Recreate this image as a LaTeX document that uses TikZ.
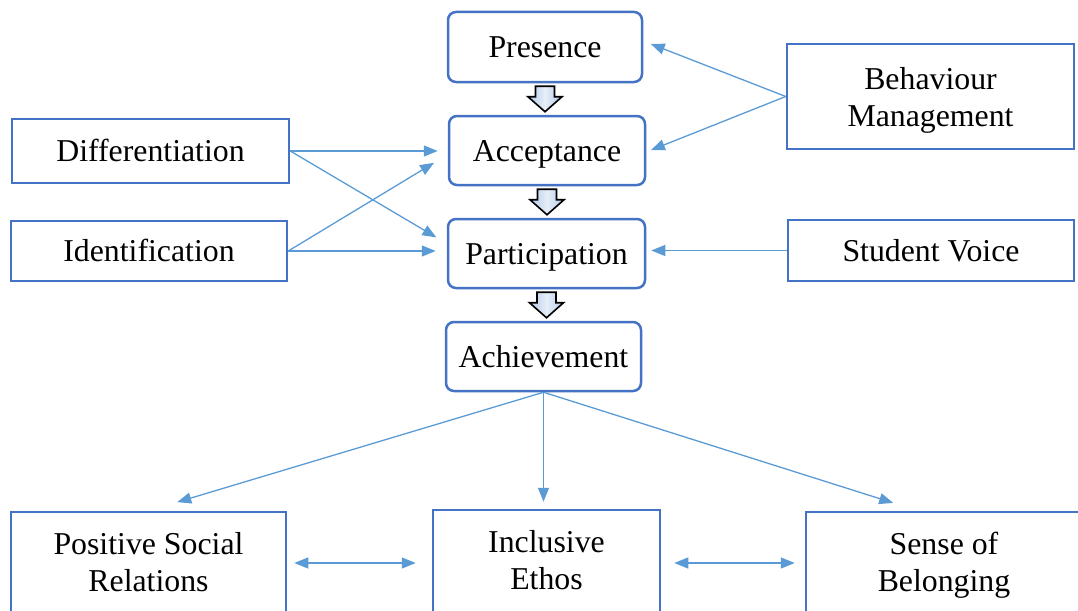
\documentclass[tikz,border=0pt]{standalone}
\usepackage{fontspec}
\setmainfont{Liberation Serif}
\usetikzlibrary{arrows.meta,calc}

\definecolor{boxblue}{HTML}{4472C4}
\definecolor{linkblue}{HTML}{5B9BD5}
\definecolor{shadeblue}{HTML}{B4C9E8}
\definecolor{shadelight}{HTML}{E6EEF8}

\tikzset{
  box/.style={draw=boxblue, line width=2.5pt, fill=white, inner sep=0pt,
    font=\fontsize{31.8}{37}\selectfont},
  stage/.style={box, rounded corners=8pt, text height=21pt, text depth=0pt},
  factor/.style={box, text height=21pt, text depth=0pt},
  twoline/.style={box, align=center, text depth=0pt},
  outcome/.style={box, align=center, text depth=8pt},
  tipshape/.tip={Triangle[length=14pt,width=11pt]},
  link/.style={draw=linkblue, line width=1.3pt, -tipshape},
  twoway/.style={draw=linkblue, line width=1.3pt, tipshape-tipshape},
  blockarrow/.style={draw=black, line width=1.6pt, line join=miter,
    left color=shadeblue, right color=shadeblue, middle color=shadelight}
}

% hollow block arrow pointing down from one stage to the next
\newcommand\stepdown[2]{%
  \path[blockarrow] let \p1=(#1.south), \p2=(#2.north) in
    (\x1-9.5pt,\y1-3pt) -- (\x1+9.5pt,\y1-3pt) -- (\x1+9.5pt,\y2+18pt)
    -- (\x1+17pt,\y2+18pt) -- (\x1,\y2+3pt) -- (\x1-17pt,\y2+18pt)
    -- (\x1-9.5pt,\y2+18pt) -- cycle;}

\begin{document}
\begin{tikzpicture}[x=1pt,y=-1pt]
\path[use as bounding box] (0,0) rectangle (1078,610);
\clip (0,0) rectangle (1078,610);

% central stages
\node[stage, minimum width=194pt, minimum height=70pt] (pres) at (545,47) {Presence};
\node[stage, minimum width=196pt, minimum height=69pt] (acc) at (547,150.5) {Acceptance};
\node[stage, minimum width=197pt, minimum height=69pt] (part) at (546.5,253.5) {Participation};
\node[stage, minimum width=195pt, minimum height=69pt] (ach) at (543.5,356.5) {Achievement};

% contributing factors
\node[factor, minimum width=277pt, minimum height=64pt] (diff) at (150.5,151) {Differentiation};
\node[factor, minimum width=276pt, minimum height=60pt] (ident) at (149,251) {Identification};
\node[twoline, minimum width=287pt, minimum height=105pt] (beh) at (930.5,96.5) {Behaviour\\Management};
\node[factor, minimum width=286pt, minimum height=61pt] (voice) at (931,250.5) {Student Voice};

% outcomes (their lower edges run past the bottom of the page)
\node[outcome, minimum width=275pt, minimum height=108pt] (pos) at (148.5,566) {Positive Social\\Relations};
\node[outcome, minimum width=227pt, minimum height=108pt] (incl) at (546.5,564) {Inclusive\\Ethos};
\node[outcome, minimum width=276pt, minimum height=108pt] (sense) at (944,566) {Sense of\\Belonging};

% stage progression
\stepdown{pres}{acc}
\stepdown{acc}{part}
\stepdown{part}{ach}

% factor links
\draw[link, shorten >=8pt] (beh.west) -- ([yshift=6pt]pres.east);
\draw[link, shorten >=5pt] (beh.west) -- ([yshift=-1.5pt]acc.east);
\draw[link, shorten >=10pt] (diff.east) -- (diff.east -| acc.west);
\draw[link, shorten >=12pt] (diff.east) -- ([yshift=10pt]part.west);
\draw[link, shorten >=16pt] (ident.east) -- ([yshift=-4pt]acc.west);
\draw[link, shorten >=11pt] (ident.east) -- (ident.east -| part.west);
\draw[link, shorten >=5pt] (voice.west) -- (voice.west -| part.east);

% outcome links
\draw[link, shorten >=30pt] (ach.south) -- (pos.north);
\draw[link, shorten >=7pt] (ach.south) -- (ach.south |- incl.north);
\draw[link, shorten >=26pt] (ach.south) -- ([xshift=-26pt]sense.north);
\draw[twoway, shorten <=7pt, shorten >=16pt] ([yshift=3pt]pos.east) -- ([yshift=3pt]pos.east -| incl.west);
\draw[twoway, shorten <=13pt, shorten >=10pt] ([yshift=1pt]incl.east) -- ([yshift=1pt]incl.east -| sense.west);
\end{tikzpicture}
\end{document}
